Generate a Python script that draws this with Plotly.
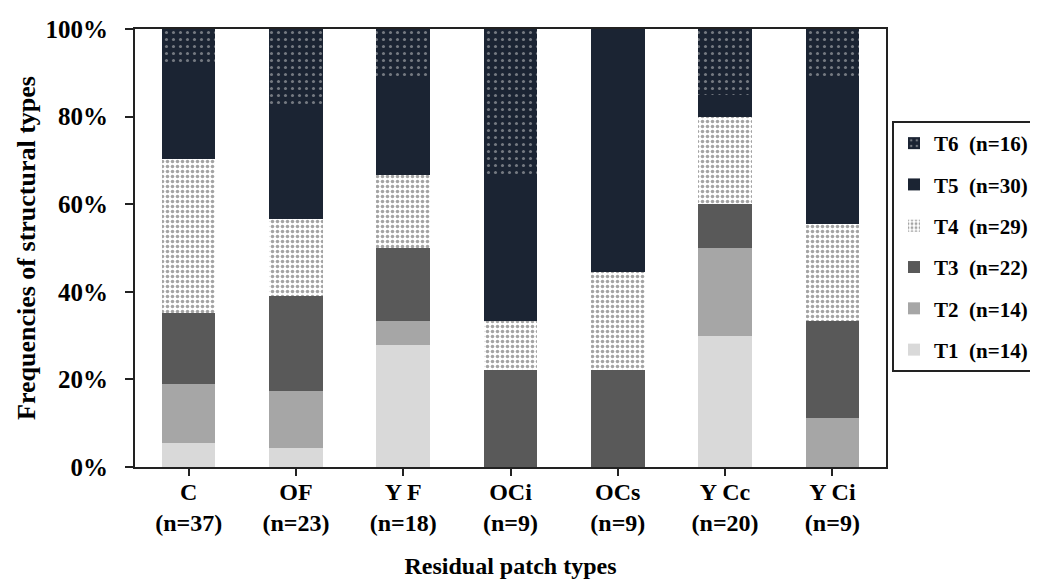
import plotly.graph_objects as go

categories = ["C", "OF", "YF", "OCi", "OCs", "YCc", "YCi"]
n_patch = [37, 23, 18, 9, 9, 20, 9]
cat_labels = ["C<br>(n=37)", "OF<br>(n=23)", "Y F<br>(n=18)", "OCi<br>(n=9)",
              "OCs<br>(n=9)", "Y Cc<br>(n=20)", "Y Ci<br>(n=9)"]

# counts of each structural type per residual patch type
t1 = [2, 1, 5, 0, 0, 6, 0]
t2 = [5, 3, 1, 0, 0, 4, 1]
t3 = [6, 5, 3, 2, 2, 2, 2]
t4 = [13, 4, 3, 1, 2, 4, 2]
t5 = [8, 6, 4, 3, 5, 1, 3]
t6 = [3, 4, 2, 3, 0, 3, 1]

type_names = ["T1", "T2", "T3", "T4", "T5", "T6"]
type_totals = [14, 14, 22, 29, 30, 16]
series_counts = [t1, t2, t3, t4, t5, t6]

styles = [
    dict(color="#d9d9d9"),
    dict(color="#a6a6a6"),
    dict(color="#595959"),
    dict(color="white", pattern=dict(shape=".", bgcolor="white", fgcolor="#4a4a4a", size=5, solidity=0.4)),
    dict(color="#1b2433"),
    dict(color="#1b2433", pattern=dict(shape=".", bgcolor="#1b2433", fgcolor="#cfcfcf", size=7, solidity=0.15)),
]

NB = "\u00a0"
fig = go.Figure()
for i, (tn, tot, counts, st) in enumerate(zip(type_names, type_totals, series_counts, styles)):
    pct = [c / n * 100 for c, n in zip(counts, n_patch)]
    fig.add_trace(go.Bar(
        x=categories, y=pct, name="<b>%s%s(n=%d)</b>" % (tn, NB * 2, tot),
        width=0.5, legendgroup="g%d" % i, legendrank=100 - i,
        marker=dict(line=dict(width=0), **st),
    ))

font_family = "Liberation Serif"
fig.update_layout(
    barmode="stack",
    width=1038, height=585,
    plot_bgcolor="white", paper_bgcolor="white",
    margin=dict(l=127, r=160, t=21, b=126, autoexpand=False),
    font=dict(family=font_family, color="black", size=24),
    legend=dict(
        traceorder="grouped", tracegroupgap=11,
        x=1.008, xanchor="left", y=0.79, yanchor="top",
        bordercolor="#222", borderwidth=2,
        font=dict(family=font_family, size=21, color="black"),
        itemwidth=30,
    ),
    showlegend=True,
)
fig.update_xaxes(
    tickvals=categories, ticktext=["<b>%s</b>" % t for t in cat_labels],
    showline=True, linecolor="#222", linewidth=2, mirror=True,
    ticks="outside", ticklen=7, tickcolor="#222", tickwidth=2,
    ticklabelstandoff=-5,
    title=dict(text="<b>Residual patch types</b>", font=dict(size=24), standoff=22),
    tickfont=dict(size=24),
)
fig.update_yaxes(
    range=[0, 100], tickvals=[0, 20, 40, 60, 80, 100],
    ticktext=["<b>%d%%</b>" % v for v in [0, 20, 40, 60, 80, 100]],
    showline=True, linecolor="#222", linewidth=2, mirror=True,
    ticks="outside", ticklen=8, tickcolor="#222", tickwidth=2,
    ticklabelstandoff=12,
    showgrid=False, zeroline=False,
    title=dict(text="<b>Frequencies of structural types</b>", font=dict(size=26), standoff=2),
    tickfont=dict(size=25),
)

fig.write_html("out.html")
